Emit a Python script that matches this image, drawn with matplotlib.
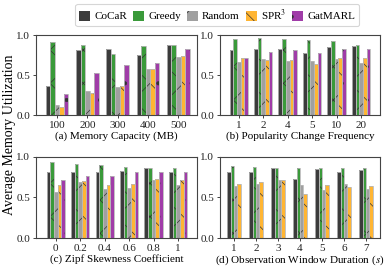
import matplotlib
matplotlib.use("Agg")
import matplotlib.pyplot as plt
import numpy as np

plt.rcParams['font.family'] = ['Liberation Serif', 'DejaVu Serif']
plt.rcParams['hatch.linewidth'] = 0.5
plt.rcParams['mathtext.fontset'] = 'stix'

methods = ["CoCaR", "Greedy", "Random", "SPR$^3$", "GatMARL"]
colors = ["#3b3b3b", "#3a9a3a", "#a0a0a0", "#ffb533", "#a03ca8"]
hatches = ["", "x", "/", "\\", "."]

# (a) Memory Capacity
cap_labels = ["100", "200", "300", "400", "500"]
cap_vals = {
    "CoCaR":   [0.36, 0.81, 0.82, 0.75, 0.875],
    "Greedy":  [0.91, 0.88, 0.76, 0.86, 0.875],
    "Random":  [0.125, 0.30, 0.35, 0.58, 0.72],
    "SPR$^3$": [0.10, 0.28, 0.36, 0.57, 0.74],
    "GatMARL": [0.26, 0.52, 0.625, 0.645, 0.825],
}
# (b) Popularity Change Frequency
pop_labels = ["1", "2", "4", "5", "10", "20"]
pop_vals = {
    "CoCaR":   [0.81, 0.82, 0.83, 0.78, 0.85, 0.86],
    "Greedy":  [0.95, 0.96, 0.95, 0.94, 0.92, 0.875],
    "Random":  [0.66, 0.70, 0.675, 0.67, 0.70, 0.65],
    "SPR$^3$": [0.71, 0.69, 0.69, 0.64, 0.71, 0.71],
    "GatMARL": [0.71, 0.79, 0.81, 0.77, 0.82, 0.825],
}
# (c) Zipf Skewness Coefficient
zipf_labels = ["0", "0.2", "0.4", "0.6", "0.8", "1"]
zipf_vals = {
    "CoCaR":   [0.81, 0.81, 0.81, 0.83, 0.865, 0.81],
    "Greedy":  [0.94, 0.91, 0.90, 0.87, 0.865, 0.865],
    "Random":  [0.57, 0.69, 0.60, 0.62, 0.71, 0.66],
    "SPR$^3$": [0.66, 0.70, 0.66, 0.67, 0.73, 0.71],
    "GatMARL": [0.72, 0.76, 0.77, 0.81, 0.82, 0.82],
}
# (d) Observation Window Duration
win_labels = ["1", "2", "3", "4", "5", "6", "7"]
win_vals = {
    "CoCaR":   [0.81, 0.81, 0.865, 0.73, 0.85, 0.82, 0.845],
    "Greedy":  [0.89, 0.88, 0.865, 0.865, 0.865, 0.865, 0.865],
    "Random":  [0.64, 0.67, 0.71, 0.65, 0.59, 0.665, 0.61],
    "SPR$^3$": [0.665, 0.69, 0.72, 0.54, 0.65, 0.63, 0.645],
}

panels = [
    (cap_labels, cap_vals, "(a) Memory Capacity (MB)", (-0.7, 4.62)),
    (pop_labels, pop_vals, "(b) Popularity Change Frequency", (-0.77, 5.77)),
    (zipf_labels, zipf_vals, "(c) Zipf Skewness Coefficient", (-0.82, 5.78)),
    (win_labels, win_vals, "(d) Observation Window Duration ($s$)", (-0.64, 6.64)),
]

fig = plt.figure(figsize=(3.85, 2.72), dpi=100)
rects = [
    [0.093, 0.577, 0.419, 0.294],
    [0.571, 0.577, 0.416, 0.294],
    [0.093, 0.125, 0.419, 0.298],
    [0.571, 0.125, 0.416, 0.298],
]
w = 0.15
handles = []
for k, (labels, vals, xl, xlim) in enumerate(panels):
    ax = fig.add_axes(rects[k])
    x = np.arange(len(labels))
    names = [m for m in methods if m in vals]
    n = len(names)
    for i, m in enumerate(names):
        j = methods.index(m)
        off = (i - (n - 1) / 2) * w
        b = ax.bar(x + off, vals[m], w, color=colors[j], hatch=hatches[j],
                   edgecolor="#333333", linewidth=0, zorder=2)
        ax.bar(x + off, vals[m], w, fill=False, edgecolor="#b8b8b8",
               linewidth=0.6, zorder=3)
        if k == 0:
            handles.append(b)
    ax.set_xticks(x)
    ax.set_xticklabels(labels)
    ax.set_xlim(*xlim)
    ax.set_ylim(0, 1.0)
    ax.set_yticks([0, 0.5, 1.0])
    ax.set_yticklabels(["0.0", "0.5", "1.0"])
    ax.set_xlabel(xl, fontsize=8, labelpad=1)
    ax.tick_params(labelsize=8, length=2.5, width=0.6, pad=1.5, colors="#222222")
    for s in ax.spines.values():
        s.set_linewidth(0.8)
        s.set_color("#444444")

fig.text(0.024, 0.504, "Average Memory Utilization", rotation=90,
         ha="center", va="center", fontsize=10)

leg = fig.legend(handles, methods, loc="center", bbox_to_anchor=(0.564, 0.945),
                 ncol=5, fontsize=8, handlelength=1.0, handleheight=1.0,
                 handletextpad=0.35, columnspacing=0.55, borderpad=0.35,
                 frameon=True, fancybox=True)
leg.get_frame().set_edgecolor("#cccccc")
leg.get_frame().set_linewidth(0.8)

fig.savefig("out.png", dpi=100)
